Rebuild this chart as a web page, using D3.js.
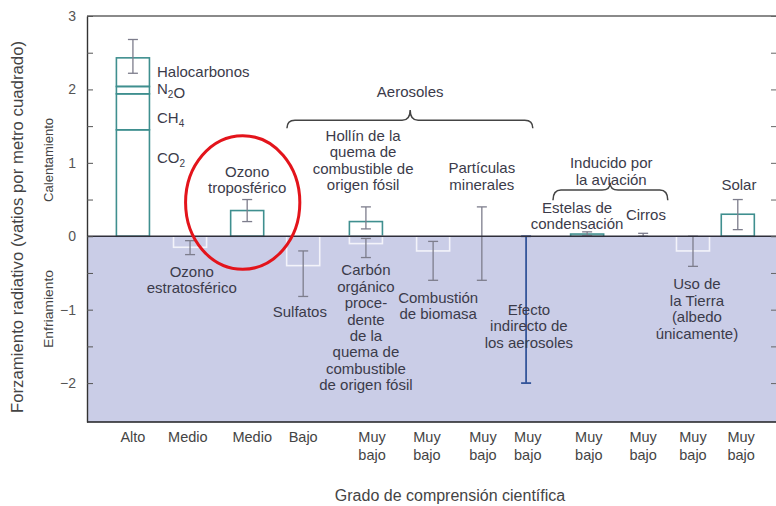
<!DOCTYPE html>
<html>
<head>
<meta charset="utf-8">
<script src="https://cdn.jsdelivr.net/npm/d3@7"></script>
<style>
body{margin:0;background:#fff}
svg{font-family:"Liberation Sans",Arial,sans-serif}
</style>
</head>
<body>
<svg></svg>
<script>
// --- data ---
var ghgNames = ["CO_2","CH_4","N_2O","Halocarbonos"]
var ghgValues = [1.45,0.49,0.10,0.39]
var ghgError = [2.22,2.68]

// column centres (column units) and the understanding level below each
var colPos = [1.0,2.02,3.04,4.04,5.16,6.36,7.23,8.02,9.11,10.11,11.0,11.8]
var labelPos = [1.0,1.98,3.13,4.04,5.27,6.25,7.25,8.05,9.14,10.11,11.0,11.86]
var understanding = ["Alto","Medio","Medio","Bajo","Muy bajo","Muy bajo","Muy bajo",
                     "Muy bajo","Muy bajo","Muy bajo","Muy bajo","Muy bajo"]

// single bars: column index and value (W/m2)
var barCol = [1,2,3,4,4,5,8,10,11]
var barValues = [-0.15,0.35,-0.4,0.2,-0.1,-0.2,0.03,-0.2,0.3]

// uncertainty ranges
var errCol = [1,2,3,4,4,5,6,8,9,10,11]
var errLow = [-0.25,0.2,-0.82,0.1,-0.29,-0.6,-0.6,0.01,0.0,-0.41,0.09]
var errHigh = [-0.06,0.5,-0.2,0.4,-0.03,-0.07,0.4,0.06,0.04,0.0,0.5]

// indirect aerosol effect (only a range)
var indirectCol = 7
var indirectRange = [-2.0,0]

// text annotations: x (column units), y (W/m2 of first line), lines
var annX = [1.43,1.43,1.43,1.43,3.04,2.05,5.95,5.11,7.23,3.98,5.16,6.45,8.07,9.54,8.93,10.16,11.82,11.07]
var annY = [2.24,2.01,1.62,1.07,0.88,-0.48,1.97,1.37,0.93,-1.03,-0.46,-0.83,-1.0,1.0,0.39,0.29,0.71,-0.65]
var annText = [
  ["Halocarbonos"],["N_2O"],["CH_4"],["CO_2"],
  ["Ozono","troposférico"],
  ["Ozono","estratosférico"],
  ["Aerosoles"],
  ["Hollín de la","quema de","combustible de","origen fósil"],
  ["Partículas","minerales"],
  ["Sulfatos"],
  ["Carbón","orgánico","proce-","dente","de la","quema de","combustible","de origen fósil"],
  ["Combustión","de biomasa"],
  ["Efecto","indirecto de","los aerosoles"],
  ["Inducido por","la aviación"],
  ["Estelas de","condensación"],
  ["Cirros"],
  ["Solar"],
  ["Uso de","la Tierra","(albedo","únicamente)"]
]
var annAnchor = ["start","start","start","start"]

// braces grouping aerosols and aviation
var braceX0 = [3.75,8.5]
var braceX1 = [8.14,10.55]
var braceMid = [5.95,9.52]
var braceEnd = [1.47,0.49]
var braceLine = [1.58,0.63]
var braceTip = [1.72,0.73]

var yTicks = [-2,-1.5,-1,-0.5,0,0.5,1,1.5,2,2.5,3]

// --- layout ---
var screen = {width:776,height:506}
var svg = d3.select("svg")
    .attr("width",screen.width)
    .attr("height",screen.height)

var xScale = d3.scaleLinear()
    .domain([0.18,12.5])
    .range([87,777])
var yScale = d3.scaleLinear()
    .domain([-2.53,3])
    .range([422,16])

var barW = 0.295
var capW = 5
var textColor = "#3b3b4a"

// cooling background
svg.append("rect")
    .attr("x",xScale(0.18))
    .attr("y",yScale(0))
    .attr("width",screen.width-xScale(0.18))
    .attr("height",yScale(-2.53)-yScale(0))
    .attr("fill","#cacde7")

// stacked bar of long-lived greenhouse gases
var cum = 0
var stack = ghgValues.map(function(v){ var s = {y0:cum,y1:cum+v}; cum += v; return s })
svg.append("g").selectAll("rect")
    .data(stack)
    .enter()
    .append("rect")
    .attr("x",xScale(colPos[0]-barW))
    .attr("width",xScale(colPos[0]+barW)-xScale(colPos[0]-barW))
    .attr("y",function(d){ return yScale(d.y1) })
    .attr("height",function(d){ return yScale(d.y0)-yScale(d.y1) })
    .attr("fill","none")
    .attr("stroke","#3f8f8f")
    .attr("stroke-width",1.6)

// single bars
svg.append("g").selectAll("rect")
    .data(barValues)
    .enter()
    .append("rect")
    .attr("x",function(d,i){ return xScale(colPos[barCol[i]]-barW) })
    .attr("width",function(d,i){ return xScale(colPos[barCol[i]]+barW)-xScale(colPos[barCol[i]]-barW) })
    .attr("y",function(d){ return yScale(Math.max(d,0)) })
    .attr("height",function(d){ return Math.abs(yScale(d)-yScale(0)) })
    .attr("fill","none")
    .attr("stroke",function(d){ return d>0 ? "#3f8f8f" : "#f3f3fa" })
    .attr("stroke-width",1.6)

// error bars
var drawError = function(target,cx,lo,hi,color,width)
{
    var g = target.append("g")
        .attr("stroke",color)
        .attr("stroke-width",width)
    g.append("line")
        .attr("x1",cx).attr("x2",cx)
        .attr("y1",yScale(lo)).attr("y2",yScale(hi))
    g.append("line")
        .attr("x1",cx-capW).attr("x2",cx+capW)
        .attr("y1",yScale(lo)).attr("y2",yScale(lo))
    g.append("line")
        .attr("x1",cx-capW).attr("x2",cx+capW)
        .attr("y1",yScale(hi)).attr("y2",yScale(hi))
}
var errors = svg.append("g")
drawError(errors,xScale(colPos[0]),ghgError[0],ghgError[1],"#7d7d8c",1.3)
errCol.forEach(function(c,i){
    drawError(errors,xScale(colPos[c]),errLow[i],errHigh[i],"#7d7d8c",1.3)
})
drawError(errors,xScale(colPos[indirectCol]),indirectRange[0],indirectRange[1],"#34559a",1.8)

// zero line
svg.append("line")
    .attr("x1",xScale(0.18)).attr("x2",screen.width)
    .attr("y1",yScale(0)).attr("y2",yScale(0))
    .attr("stroke","#2f2f3a")
    .attr("stroke-width",1.5)

// frame
svg.append("line")
    .attr("x1",xScale(0.18)).attr("x2",screen.width)
    .attr("y1",yScale(3)).attr("y2",yScale(3))
    .attr("stroke","#8a8a8a").attr("stroke-width",2)
svg.append("line")
    .attr("x1",xScale(0.18)).attr("x2",screen.width)
    .attr("y1",yScale(-2.53)).attr("y2",yScale(-2.53))
    .attr("stroke","#1e1e22").attr("stroke-width",1.6)

// axes
var yAxis = d3.axisLeft(yScale)
    .tickValues(yTicks)
    .tickSizeInner(-6)
    .tickSizeOuter(0)
    .tickPadding(11)
    .tickFormat(function(d){ return Number.isInteger(d) ? d3.format("d")(d) : "" })
var axisL = svg.append("g")
    .attr("transform","translate("+xScale(0.18)+",0)")
    .call(yAxis)
axisL.select(".domain").attr("stroke","#333").attr("stroke-width",1.4)
axisL.selectAll(".tick line").attr("stroke","#555")
axisL.selectAll("text").attr("font-size",14).attr("fill","#555")
    .attr("font-family","Liberation Sans, Arial, sans-serif")

var axisR = svg.append("g")
    .attr("transform","translate(779,0)")
    .call(d3.axisLeft(yScale).tickValues(yTicks).tickSizeInner(8).tickSizeOuter(0).tickFormat(""))
axisR.selectAll(".tick line").attr("stroke","#666")

// brace grouping
var bracePath = function(i)
{
    var x0 = xScale(braceX0[i]), x1 = xScale(braceX1[i]), xm = xScale(braceMid[i])
    var ye = yScale(braceEnd[i]), yl = yScale(braceLine[i]), yt = yScale(braceTip[i])
    var r = 8
    var p = d3.path()
    p.moveTo(x0,ye)
    p.quadraticCurveTo(x0,yl,x0+r,yl)
    p.lineTo(xm-r,yl)
    p.quadraticCurveTo(xm,yl,xm,yt)
    p.quadraticCurveTo(xm,yl,xm+r,yl)
    p.lineTo(x1-r,yl)
    p.quadraticCurveTo(x1,yl,x1,ye)
    return p.toString()
}
svg.append("g").selectAll("path")
    .data(braceX0)
    .enter()
    .append("path")
    .attr("d",function(d,i){ return bracePath(i) })
    .attr("fill","none")
    .attr("stroke","#444")
    .attr("stroke-width",1.5)

// annotation texts
var writeLine = function(t,s)
{
    s.split(/(_\d)/).forEach(function(part){
        if(part==="") return
        if(part[0]==="_")
        {
            t.append("tspan").attr("font-size",10).attr("dy",4).text(part.slice(1))
            t.append("tspan").attr("dy",-4).text("")
        }
        else t.append("tspan").text(part)
    })
}
var lineH = 16.4
annText.forEach(function(lines,i){
    lines.forEach(function(s,j){
        var t = svg.append("text")
            .attr("x",xScale(annX[i]))
            .attr("y",yScale(annY[i])+j*lineH)
            .attr("dy","0.36em")
            .attr("text-anchor",annAnchor[i] || "middle")
            .attr("font-size",15)
            .attr("fill",textColor)
        writeLine(t,s)
    })
})

// red circle round tropospheric ozone
svg.append("ellipse")
    .attr("cx",xScale(2.96))
    .attr("cy",yScale(0.46))
    .attr("rx",xScale(2.96+1.02)-xScale(2.96))
    .attr("ry",yScale(0)-yScale(0.91))
    .attr("fill","none")
    .attr("stroke","#e3141b")
    .attr("stroke-width",3)

// level of understanding
var catLabels = svg.append("g")
understanding.forEach(function(s,i){
    s.split(" ").forEach(function(w,j){
        catLabels.append("text")
            .attr("x",xScale(labelPos[i]))
            .attr("y",437+j*18)
            .attr("dy","0.36em")
            .attr("text-anchor","middle")
            .attr("font-size",14.5)
            .attr("fill","#444")
            .text(w)
    })
})

// axis titles
svg.append("text")
    .text("Grado de comprensión científica")
    .attr("x",450)
    .attr("y",495)
    .attr("dy","0.36em")
    .attr("text-anchor","middle")
    .attr("font-size",16)
    .attr("fill","#444")

svg.append("g")
    .attr("transform","translate(17,227)")
    .append("text")
    .text("Forzamiento radiativo (vatios por metro cuadrado)")
    .attr("transform","rotate(-90)")
    .attr("dy","0.36em")
    .attr("text-anchor","middle")
    .attr("font-size",16.8)
    .attr("fill","#444")

svg.append("g")
    .attr("transform","translate(48,"+yScale(1.04)+")")
    .append("text")
    .text("Calentamiento")
    .attr("transform","rotate(-90)")
    .attr("dy","0.36em")
    .attr("text-anchor","middle")
    .attr("font-size",12.5)
    .attr("textLength",84)
    .attr("lengthAdjust","spacingAndGlyphs")
    .attr("fill","#444")

svg.append("g")
    .attr("transform","translate(48,"+yScale(-0.99)+")")
    .append("text")
    .text("Enfriamiento")
    .attr("transform","rotate(-90)")
    .attr("dy","0.36em")
    .attr("text-anchor","middle")
    .attr("font-size",12.5)
    .attr("textLength",78)
    .attr("lengthAdjust","spacingAndGlyphs")
    .attr("fill","#444")
</script>
</body>
</html>
